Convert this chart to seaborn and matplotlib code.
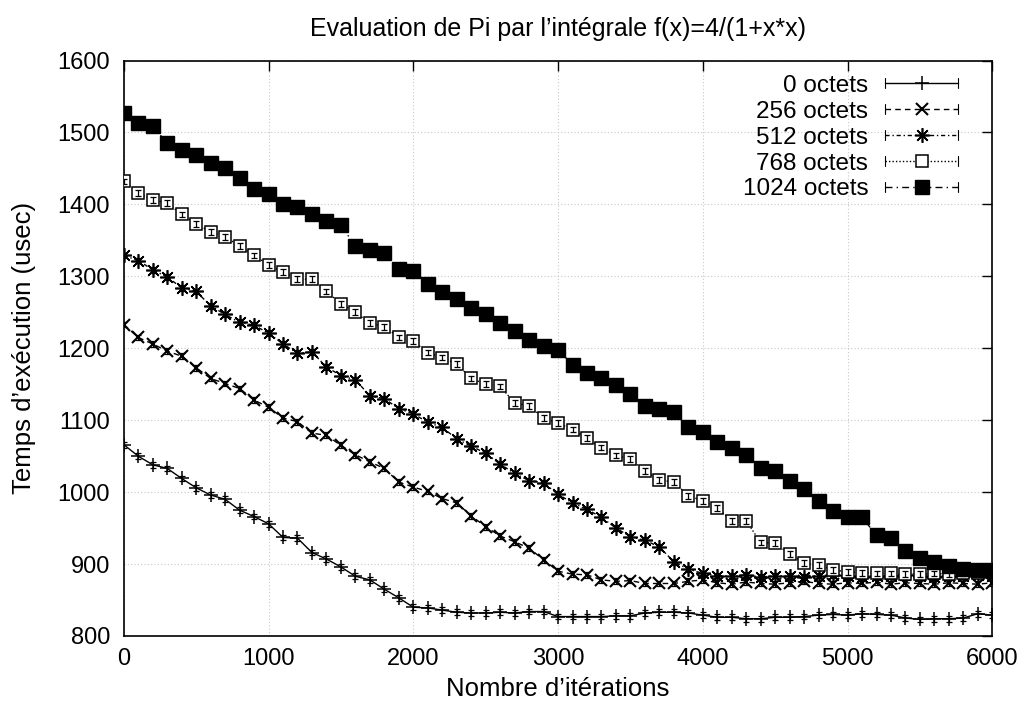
import matplotlib
matplotlib.use("Agg")
import matplotlib.pyplot as plt
import numpy as np
import pandas as pd
import seaborn as sns
from matplotlib.lines import Line2D
from matplotlib.legend_handler import HandlerLine2D

# ── Données ────────────────────────────────────────────────
ITERATIONS = [
    0, 100, 200, 300, 400, 500, 600, 700, 800, 900,
    1000, 1100, 1200, 1300, 1400, 1500, 1600, 1700, 1800, 1900,
    2000, 2100, 2200, 2300, 2400, 2500, 2600, 2700, 2800, 2900,
    3000, 3100, 3200, 3300, 3400, 3500, 3600, 3700, 3800, 3900,
    4000, 4100, 4200, 4300, 4400, 4500, 4600, 4700, 4800, 4900,
    5000, 5100, 5200, 5300, 5400, 5500, 5600, 5700, 5800, 5900,
    6000,
]

OCTETS_0 = [
    1066, 1050, 1038, 1033, 1019, 1006, 996, 990, 975, 966,
    956, 937, 936, 916, 907, 896, 883, 878, 865, 853,
    840, 839, 836, 833, 832, 832, 833, 832, 834, 834,
    827, 827, 827, 827, 828, 828, 832, 833, 833, 832,
    829, 826, 826, 824, 824, 826, 826, 827, 829, 830,
    829, 831, 830, 829, 825, 823, 824, 824, 825, 831,
    829,
]

OCTETS_256 = [
    1233, 1215, 1206, 1196, 1189, 1173, 1158, 1151, 1144, 1128,
    1118, 1103, 1098, 1082, 1079, 1065, 1052, 1042, 1033, 1014,
    1007, 1001, 991, 985, 967, 952, 939, 931, 922, 906,
    890, 886, 885, 878, 876, 877, 873, 873, 873, 876,
    878, 874, 872, 875, 873, 872, 874, 876, 873, 872,
    874, 873, 875, 872, 874, 873, 872, 874, 873, 872,
    874,
]

OCTETS_512 = [
    1329, 1322, 1309, 1299, 1284, 1279, 1259, 1247, 1236, 1232,
    1221, 1206, 1193, 1195, 1174, 1162, 1156, 1134, 1130, 1116,
    1109, 1097, 1090, 1074, 1064, 1054, 1039, 1026, 1016, 1013,
    997, 985, 976, 965, 950, 938, 933, 924, 903, 893,
    887, 884, 883, 885, 882, 884, 883, 882, 884, 885,
    883, 882, 884, 883, 885, 884, 882, 884, 883, 885,
    884,
]

OCTETS_768 = [
    1432, 1416, 1406, 1402, 1386, 1373, 1362, 1355, 1342, 1329,
    1316, 1306, 1296, 1296, 1279, 1262, 1250, 1235, 1230, 1215,
    1210, 1194, 1187, 1178, 1158, 1150, 1147, 1124, 1120, 1103,
    1096, 1087, 1075, 1062, 1051, 1046, 1029, 1017, 1014, 995,
    988, 978, 960, 960, 930, 929, 914, 901, 899, 892,
    889, 888, 887, 887, 886, 886, 887, 886, 887, 888,
    889,
]

OCTETS_1024 = [
    1527, 1513, 1509, 1485, 1476, 1469, 1457, 1451, 1437, 1422,
    1415, 1401, 1397, 1386, 1377, 1371, 1342, 1337, 1332, 1310,
    1307, 1289, 1278, 1269, 1256, 1247, 1235, 1224, 1211, 1203,
    1198, 1177, 1166, 1159, 1149, 1136, 1120, 1116, 1111, 1090,
    1084, 1070, 1062, 1052, 1034, 1029, 1016, 1005, 988, 974,
    966, 965, 940, 936, 918, 908, 903, 897, 893, 892,
    892,
]

LABELS = ["0 octets", "256 octets", "512 octets", "768 octets", "1024 octets"]
ERR = 4  # demi-hauteur des barres d'erreur (usec)

# ── Style ─────────────────────────────────────────────────
sns.set_style("white")
plt.rcParams["font.family"] = ["Liberation Sans", "DejaVu Sans"]
plt.rcParams["text.color"] = "black"
plt.rcParams["axes.labelcolor"] = "black"
plt.rcParams["xtick.color"] = "black"
plt.rcParams["ytick.color"] = "black"

df = pd.DataFrame({
    "iter": ITERATIONS * 5,
    "temps": OCTETS_0 + OCTETS_256 + OCTETS_512 + OCTETS_768 + OCTETS_1024,
    "taille": np.repeat(LABELS, len(ITERATIONS)),
})

# style gnuplot de chaque courbe
styles = {
    "0 octets":    dict(marker="+", ms=9.5, mfc="black", mew=1.1, ls="-"),
    "256 octets":  dict(marker="x", ms=8, mfc="black", mew=1.5, ls=(0, (4, 3))),
    "512 octets":  dict(marker=(8, 2, 0), ms=10.5, mfc="black", mew=1.2, ls=(0, (3, 2, 1, 2))),
    "768 octets":  dict(marker="s", ms=8.5, mfc="white", mew=1.1, ls=(0, (1, 1.5))),
    "1024 octets": dict(marker="s", ms=9.5, mfc="black", mew=1.0, ls=(0, (5, 3, 1, 3))),
}


class CapLineHandler(HandlerLine2D):
    # ajoute les petites barres verticales aux extrémités, comme gnuplot
    def create_artists(self, legend, orig_handle, xdescent, ydescent,
                       width, height, fontsize, trans):
        artists = super().create_artists(legend, orig_handle, xdescent, ydescent,
                                         width, height, fontsize, trans)
        yc = height / 2 - ydescent
        h = height * 0.3
        for x in (-xdescent, width - xdescent):
            cap = Line2D([x, x], [yc - h, yc + h], color="black", lw=0.8)
            cap.set_transform(trans)
            artists.append(cap)
        return artists


fig, ax = plt.subplots(figsize=(10.23, 7.08), dpi=100)
fig.subplots_adjust(left=0.121, right=0.970, top=0.9145, bottom=0.1017)

handles = []
for label in LABELS:
    st = styles[label]
    sub = df[df["taille"] == label]
    sns.lineplot(data=sub, x="iter", y="temps", ax=ax, color="black",
                 linewidth=1.0, linestyle=st["ls"], marker=st["marker"],
                 markersize=st["ms"], markerfacecolor=st["mfc"],
                 markeredgecolor="black", markeredgewidth=st["mew"],
                 legend=False, zorder=3)
    ax.errorbar(sub["iter"], sub["temps"], yerr=ERR, fmt="none", ecolor="black",
                elinewidth=0.9, capsize=2.5, capthick=0.9, zorder=3)
    handles.append(Line2D([], [], color="black", lw=1.0, ls=st["ls"],
                          marker=st["marker"], ms=st["ms"], mfc=st["mfc"],
                          mec="black", mew=st["mew"]))

ax.set_xlim(0, 6000)
ax.set_ylim(800, 1600)
ax.set_xticks(range(0, 6001, 1000))
ax.set_yticks(range(800, 1601, 100))
ax.grid(True, color="#c8c8c8", linestyle=(0, (1, 2)), linewidth=0.8)
ax.tick_params(direction="in", length=7, width=1, top=True, right=True,
               labelsize=17, colors="black")
ax.tick_params(axis="y", pad=10)
ax.tick_params(axis="x", pad=9)
for sp in ax.spines.values():
    sp.set_color("black")
    sp.set_linewidth(1.2)

ax.set_title("Evaluation de Pi par l’intégrale f(x)=4/(1+x*x)", fontsize=18, pad=18)
ax.set_xlabel("Nombre d’itérations", fontsize=18.5, labelpad=5)
ax.set_ylabel("Temps d’exécution (usec)", fontsize=18.5, labelpad=15)

ax.legend(handles, LABELS, loc="upper right", bbox_to_anchor=(0.972, 0.992),
          borderaxespad=0, frameon=False, markerfirst=False, fontsize=17.5,
          handlelength=3.0, handletextpad=0.7, labelspacing=0.16,
          handler_map={Line2D: CapLineHandler()})

fig.savefig("out.png", dpi=100)
